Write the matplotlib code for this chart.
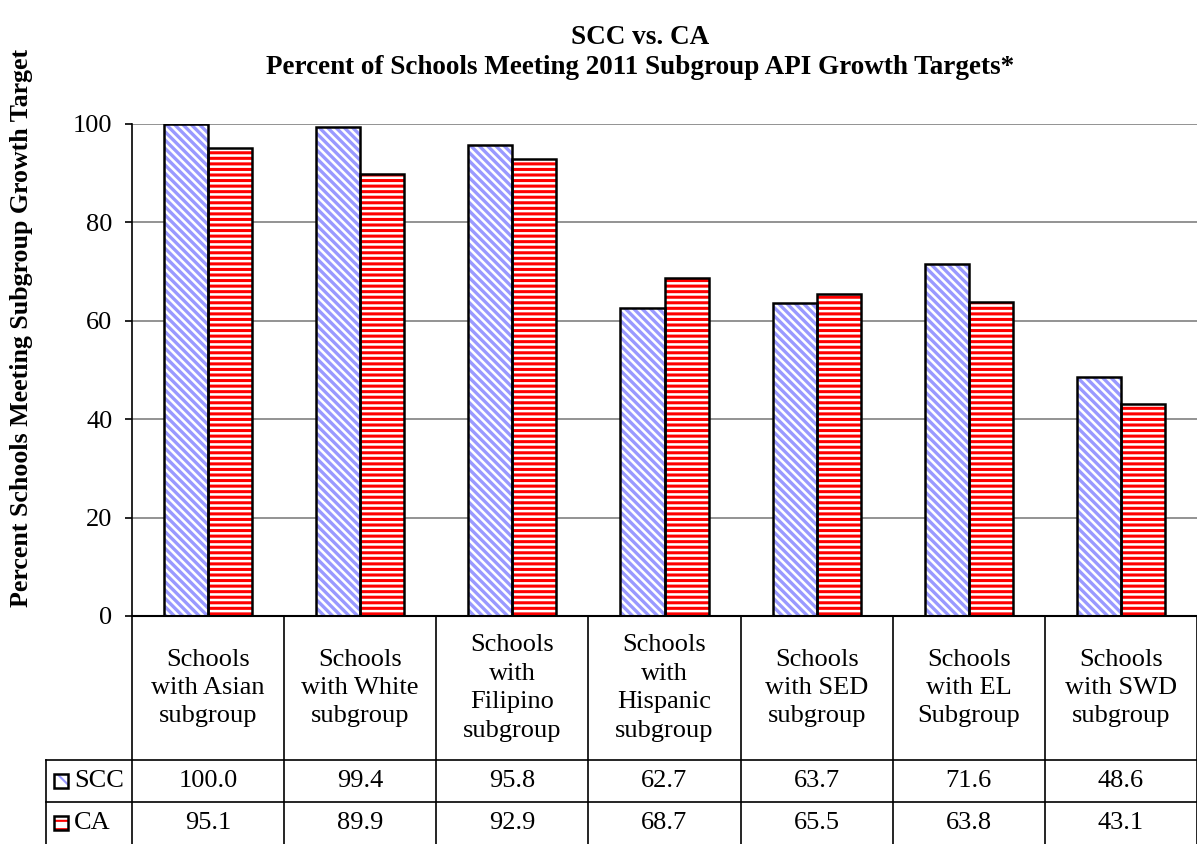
import numpy as np
import matplotlib
matplotlib.use("Agg")
import matplotlib.pyplot as plt
from matplotlib.patches import Rectangle

plt.rcParams['font.family'] = ['Liberation Serif', 'DejaVu Serif']

# data
categories = ["Schools\nwith Asian\nsubgroup", "Schools\nwith White\nsubgroup",
              "Schools\nwith\nFilipino\nsubgroup", "Schools\nwith\nHispanic\nsubgroup",
              "Schools\nwith SED\nsubgroup", "Schools\nwith EL\nSubgroup",
              "Schools\nwith SWD\nsubgroup"]
series_names = ["SCC", "CA"]
scc = [100.0, 99.4, 95.8, 62.7, 63.7, 71.6, 48.6]
ca = [95.1, 89.9, 92.9, 68.7, 65.5, 63.8, 43.1]

# styles
blue = '#9999FF'
red = '#FF0000'
styles = [(blue, '\\\\\\\\', 2.4), (red, '---', 2.2)]
fs = 19

W, H = 1197, 844
fig = plt.figure(figsize=(W / 100, H / 100), dpi=100)

ax = fig.add_axes([132 / W, 228 / H, (W - 132) / W, (616 - 124) / H])
x = np.arange(len(categories))
bw = 0.29


def hatched_bar(axis, xs, vals, color, hatch, hlw):
    plt.rcParams['hatch.linewidth'] = hlw
    bars = axis.bar(xs, vals, bw, facecolor='white', edgecolor=color,
                    hatch=hatch, linewidth=0, zorder=2)
    for b in bars:
        if hasattr(b, 'set_hatch_linewidth'):
            b.set_hatch_linewidth(hlw)
    axis.bar(xs, vals, bw, fill=False, edgecolor='black', linewidth=1.8, zorder=3)


hatched_bar(ax, x - bw / 2, scc, *styles[0])
hatched_bar(ax, x + bw / 2, ca, *styles[1])

ax.set_xlim(-0.5, 6.5)
ax.set_ylim(0, 100)
ax.set_yticks(np.arange(0, 101, 20))
ax.set_xticks([])
for s in ['top', 'right', 'bottom']:
    ax.spines[s].set_visible(False)
ax.spines['left'].set_linewidth(1.2)
ax.yaxis.grid(True, color='#808080', linewidth=1.2)
ax.set_axisbelow(True)
ax.axhline(0, color='black', linewidth=1.5, clip_on=False, zorder=4)
ax.tick_params(axis='y', direction='out', length=5, width=1.2, labelsize=fs, pad=9)

# data table under the chart
axt = fig.add_axes([132 / W, 0, (W - 132) / W, 228 / H])
axt.set_xlim(-0.5, 6.5)
axt.set_ylim(0, 228)
axt.axis('off')
x_left = -0.5 - 86 / 152

for k in range(len(categories) + 1):
    axt.plot([k - 0.5, k - 0.5], [0, 228], color='black', lw=1.2, clip_on=False)
for yy in [84, 42]:
    axt.plot([x_left, 6.5], [yy, yy], color='black', lw=1.2, clip_on=False)
axt.plot([x_left, x_left], [0, 84], color='black', lw=1.2, clip_on=False)

for i, lab in enumerate(categories):
    axt.text(i, 156, lab, ha='center', va='center', fontsize=fs, linespacing=1.38)
    axt.text(i, 63, f"{scc[i]:.1f}", ha='center', va='center', fontsize=fs)
    axt.text(i, 21, f"{ca[i]:.1f}", ha='center', va='center', fontsize=fs)

for name, yc, (color, hatch, hlw) in zip(series_names, [63, 21], styles):
    plt.rcParams['hatch.linewidth'] = 1.5
    sq = Rectangle((-1.013, yc - 7), 0.095, 14, facecolor='white', edgecolor=color,
                   hatch=hatch[:2], linewidth=0, clip_on=False)
    axt.add_patch(sq)
    axt.add_patch(Rectangle((-1.013, yc - 7), 0.095, 14, fill=False,
                            edgecolor='black', linewidth=1.8, clip_on=False))
    axt.text(-0.882, yc, name, ha='left', va='center', fontsize=fs)

fig.text(640 / W, 1 - 38 / H, "SCC vs. CA", ha='center', va='center',
         fontsize=19.5, fontweight='bold')
fig.text(640 / W, 1 - 67 / H, "Percent of Schools Meeting 2011 Subgroup API Growth Targets*",
         ha='center', va='center', fontsize=19.5, fontweight='bold')
fig.text(22 / W, 1 - 328 / H, "Percent Schools Meeting Subgroup Growth Target",
         ha='center', va='center', rotation=90, fontsize=18.6, fontweight='bold')

fig.savefig('out.png', dpi=100)
